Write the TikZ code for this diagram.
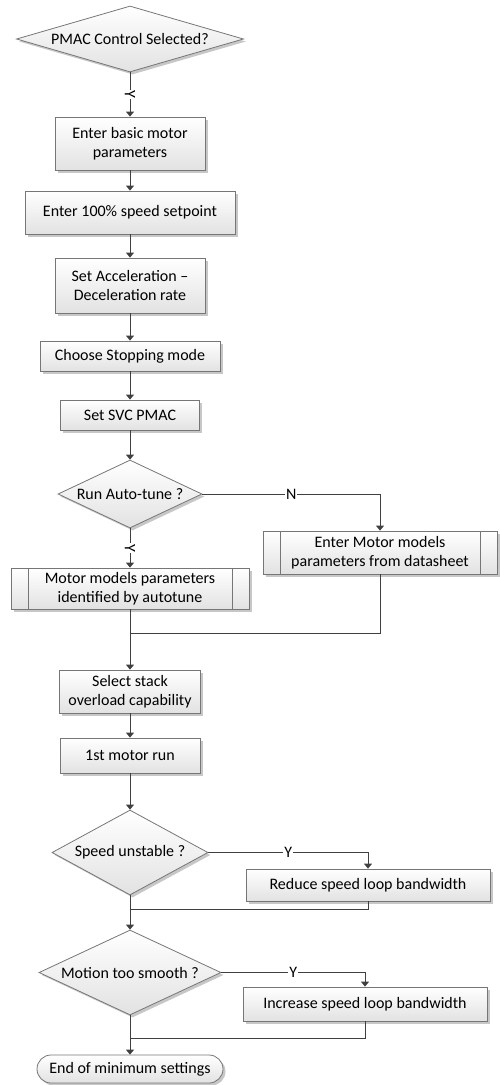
\documentclass[tikz,border=0pt]{standalone}
\usepackage{fontspec}
\setmainfont{Carlito}
\definecolor{linegray}{HTML}{404040}
\definecolor{edgegray}{HTML}{767676}
\definecolor{boxfill}{HTML}{E2E2E2}
\usetikzlibrary{shapes.geometric,arrows.meta,shadows}

\begin{document}
\begin{tikzpicture}[x=1pt,y=-1pt,font=\fontsize{16}{19.5}\selectfont,
  base/.style={draw=edgegray,line width=0.8pt,top color=white,bottom color=boxfill,
    drop shadow={shadow xshift=2.5pt,shadow yshift=-2.5pt,opacity=0.22,fill=black}},
  process/.style={base,rectangle,align=center,inner sep=0pt},
  subproc/.style={process,path picture={
    \draw[edgegray,line width=0.8pt] ([xshift=17pt]path picture bounding box.north west) -- ([xshift=17pt]path picture bounding box.south west);
    \draw[edgegray,line width=0.8pt] ([xshift=-17pt]path picture bounding box.north east) -- ([xshift=-17pt]path picture bounding box.south east);}},
  decision/.style={base,diamond,inner sep=0pt},
  terminal/.style={base,rectangle,rounded corners=14pt,inner sep=0pt},
  flow/.style={draw=linegray,line width=0.8pt,-{Triangle[width=8pt,length=5pt]}},
  link/.style={draw=linegray,line width=0.8pt},
  vlab/.style={fill=white,inner sep=1pt,rotate=-90},
  hlab/.style={fill=white,inner sep=1pt}]
  \useasboundingbox (0,0) rectangle (499,1085);

  % setup column
  \node[decision,minimum width=227pt,minimum height=66pt,label=center:{PMAC Control Selected?}] (pmac) at (130,39) {};
  \node[process,minimum width=150pt,minimum height=53pt] (basic) at (130,143.5) {Enter basic motor\\parameters};
  \node[process,minimum width=210pt,minimum height=43pt] (setpt) at (130,212.5) {Enter 100\% speed setpoint};
  \node[process,minimum width=150pt,minimum height=55pt] (accel) at (130,285.5) {Set Acceleration --\\Deceleration rate};
  \node[process,minimum width=180pt,minimum height=30pt] (stop) at (130,356) {Choose Stopping mode};
  \node[process,minimum width=139pt,minimum height=30pt] (svc) at (130,415) {Set SVC PMAC};

  % auto-tune branch
  \node[decision,minimum width=144pt,minimum height=68pt,label=center:{Run Auto-tune ?}] (tune) at (130,494) {};
  \node[subproc,minimum width=234pt,minimum height=43pt] (sheet) at (380,552.5) {Enter Motor models\\parameters from datasheet};
  \node[subproc,minimum width=238pt,minimum height=41pt] (auto) at (130,588.5) {Motor models parameters\\identified by autotune};
  \coordinate (join1) at (130,633);
  \node[process,minimum width=141pt,minimum height=43pt] (stack) at (130,691.5) {Select stack\\overload capability};
  \node[process,minimum width=140pt,minimum height=35pt] (run) at (130,755.5) {1st motor run};

  % tuning checks
  \node[decision,minimum width=156pt,minimum height=85pt,label=center:{Speed unstable ?}] (unstable) at (130,852.5) {};
  \node[process,minimum width=244pt,minimum height=32pt] (reduce) at (368,885) {Reduce speed loop bandwidth};
  \coordinate (join2) at (130,909);
  \node[decision,minimum width=182pt,minimum height=85pt,label=center:{Motion too smooth ?}] (smooth) at (130,972.5) {};
  \node[process,minimum width=244pt,minimum height=34pt] (increase) at (365,1004) {Increase speed loop bandwidth};
  \coordinate (join3) at (130,1038);
  \node[terminal,minimum width=186pt,minimum height=28pt] (done) at (130,1069) {End of minimum settings};

  % connectors
  \draw[flow] (pmac) -- node[vlab] {Y} (basic);
  \draw[flow] (basic) -- (setpt);
  \draw[flow] (setpt) -- (accel);
  \draw[flow] (accel) -- (stop);
  \draw[flow] (stop) -- (svc);
  \draw[flow] (svc) -- (tune);
  \draw[flow] (tune.east) -| node[hlab,pos=0.25] {N} (sheet.north);
  \draw[flow] (tune) -- node[vlab] {Y} (auto);
  \draw[link] (sheet.south) |- (join1);
  \draw[flow] (auto) -- (stack);
  \draw[flow] (stack) -- (run);
  \draw[flow] (run) -- (unstable);
  \draw[flow] (unstable.east) -| node[hlab,pos=0.25] {Y} (reduce.north);
  \draw[link] (reduce.south) |- (join2);
  \draw[flow] (unstable) -- (smooth);
  \draw[flow] (smooth.east) -| node[hlab,pos=0.25] {Y} (increase.north);
  \draw[link] (increase.south) |- (join3);
  \draw[flow] (smooth) -- (done);
\end{tikzpicture}
\end{document}
